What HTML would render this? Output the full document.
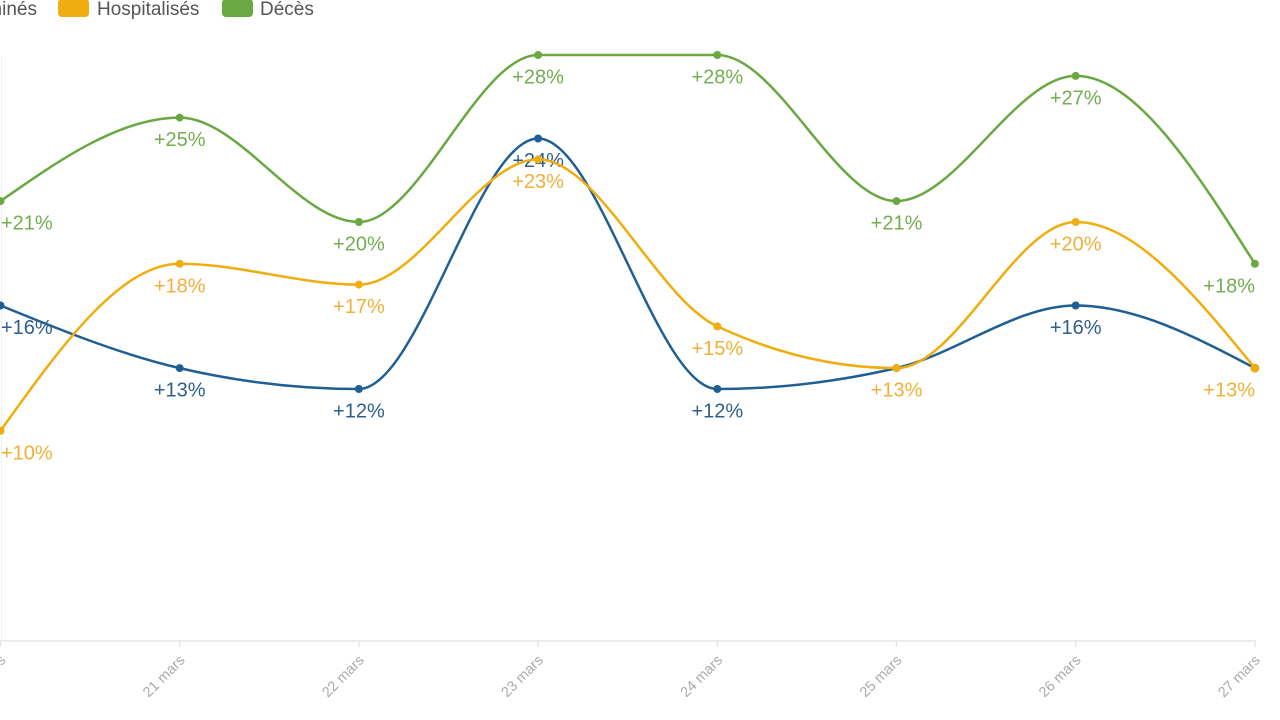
<!DOCTYPE html>
<html><head><meta charset="utf-8"><style>
html,body{margin:0;padding:0;background:#fff;}
svg{display:block;font-family:"Liberation Sans",sans-serif;}
</style></head><body>
<svg width="1280" height="720" viewBox="0 0 1280 720" xmlns="http://www.w3.org/2000/svg">
<rect width="1280" height="720" fill="#fff"/>
<!-- legend -->
<g font-size="19" fill="#555">
<text x="37" y="15" text-anchor="end">Contaminés</text>
<rect x="58" y="-1" width="31" height="18" rx="4" fill="#f0ad0f"/>
<text x="97" y="15">Hospitalisés</text>
<rect x="222" y="-1" width="31" height="18" rx="4" fill="#6aa843"/>
<text x="260" y="15">Décès</text>
</g>
<!-- left faint line -->
<line x1="1.5" y1="56" x2="1.5" y2="641" stroke="#f0f0f0" stroke-width="1"/>
<!-- x axis -->
<line x1="0" y1="641" x2="1256" y2="641" stroke="#e6e6e6" stroke-width="1.5"/>
<g stroke="#e6e6e6" stroke-width="1.5">
<line x1="0.5" y1="641" x2="0.5" y2="647"/>
<line x1="179.7" y1="641" x2="179.7" y2="647"/>
<line x1="358.9" y1="641" x2="358.9" y2="647"/>
<line x1="538.1" y1="641" x2="538.1" y2="647"/>
<line x1="717.3" y1="641" x2="717.3" y2="647"/>
<line x1="896.5" y1="641" x2="896.5" y2="647"/>
<line x1="1075.7" y1="641" x2="1075.7" y2="647"/>
<line x1="1254.9" y1="641" x2="1254.9" y2="647"/>
</g>
<g font-size="14.5" fill="#aaa" text-anchor="end">
<text transform="translate(6.5,661) rotate(-45)">20 mars</text>
<text transform="translate(185.7,661) rotate(-45)">21 mars</text>
<text transform="translate(364.9,661) rotate(-45)">22 mars</text>
<text transform="translate(544.1,661) rotate(-45)">23 mars</text>
<text transform="translate(723.3,661) rotate(-45)">24 mars</text>
<text transform="translate(902.5,661) rotate(-45)">25 mars</text>
<text transform="translate(1081.7,661) rotate(-45)">26 mars</text>
<text transform="translate(1260.9,661) rotate(-45)">27 mars</text>
</g>

<!-- blue series -->
<path fill="none" stroke="#1f5f93" stroke-width="2.5" d="M0.5,305.5 C60.2,329.9 120,354.2 179.7,368.1 C239.4,382 299.2,389 358.9,389 C418.6,389 478.4,138.5 538.1,138.5 C597.8,138.5 657.6,389 717.3,389 C777,389 836.8,382 896.5,368.1 C956.2,354.2 1016,305.5 1075.7,305.5 C1135.4,305.5 1195.2,336.8 1254.9,368.1"/>
<g fill="#1f5f93">
<circle cx="0.5" cy="305.5" r="4"/><circle cx="179.7" cy="368.1" r="4"/><circle cx="358.9" cy="389" r="4"/><circle cx="538.1" cy="138.5" r="4"/><circle cx="717.3" cy="389" r="4"/><circle cx="896.5" cy="368.1" r="4"/><circle cx="1075.7" cy="305.5" r="4"/><circle cx="1254.9" cy="368.1" r="4"/>
</g>
<g font-size="20" fill="#2f5f8e" text-anchor="middle">
<text x="1" y="334" text-anchor="start">+16%</text>
<text x="179.7" y="396.6">+13%</text>
<text x="358.9" y="417.5">+12%</text>
<text x="538.1" y="167">+24%</text>
<text x="717.3" y="417.5">+12%</text>
<text x="1075.7" y="334">+16%</text>
</g>

<!-- orange series -->
<path fill="none" stroke="#f0ad0f" stroke-width="2.5" d="M0.5,430.75 C60.2,347.25 120,263.75 179.7,263.75 C239.4,263.75 299.2,284.6 358.9,284.6 C418.6,284.6 478.4,159.4 538.1,159.4 C597.8,159.4 657.6,298.5 717.3,326.4 C777,354.2 836.8,368.1 896.5,368.1 C956.2,368.1 1016,222 1075.7,222 C1135.4,222 1195.2,295.1 1254.9,368.1"/>
<g fill="#f0ad0f">
<circle cx="0.5" cy="430.75" r="4"/><circle cx="179.7" cy="263.75" r="4"/><circle cx="358.9" cy="284.6" r="4"/><circle cx="538.1" cy="159.4" r="4"/><circle cx="717.3" cy="326.4" r="4"/><circle cx="896.5" cy="368.1" r="4"/><circle cx="1075.7" cy="222" r="4"/><circle cx="1254.9" cy="368.1" r="4.5"/>
</g>
<g font-size="20" fill="#f0b038" text-anchor="middle">
<text x="1" y="459.3" text-anchor="start">+10%</text>
<text x="179.7" y="292.3">+18%</text>
<text x="358.9" y="313.1">+17%</text>
<text x="538.1" y="188">+23%</text>
<text x="717.3" y="354.9">+15%</text>
<text x="896.5" y="396.6">+13%</text>
<text x="1075.7" y="250.5">+20%</text>
<text x="1255" y="396.6" text-anchor="end">+13%</text>
</g>

<!-- green series -->
<path fill="none" stroke="#6aa843" stroke-width="2.5" d="M0.5,201.1 C60.2,159.4 120,117.6 179.7,117.6 C239.4,117.6 299.2,222 358.9,222 C418.6,222 478.4,55 538.1,55 C597.8,55 657.6,55 717.3,55 C777,55 836.8,201.1 896.5,201.1 C956.2,201.1 1016,75.9 1075.7,75.9 C1135.4,75.9 1195.2,169.8 1254.9,263.75"/>
<g fill="#6aa843">
<circle cx="0.5" cy="201.1" r="4"/><circle cx="179.7" cy="117.6" r="4"/><circle cx="358.9" cy="222" r="4"/><circle cx="538.1" cy="55" r="4"/><circle cx="717.3" cy="55" r="4"/><circle cx="896.5" cy="201.1" r="4"/><circle cx="1075.7" cy="75.9" r="4"/><circle cx="1254.9" cy="263.75" r="4"/>
</g>
<g font-size="20" fill="#72ad50" text-anchor="middle">
<text x="1" y="229.6" text-anchor="start">+21%</text>
<text x="179.7" y="146.1">+25%</text>
<text x="358.9" y="250.5">+20%</text>
<text x="538.1" y="83.5">+28%</text>
<text x="717.3" y="83.5">+28%</text>
<text x="896.5" y="229.6">+21%</text>
<text x="1075.7" y="104.4">+27%</text>
<text x="1255" y="292.3" text-anchor="end">+18%</text>
</g>
</svg>
</body></html>
